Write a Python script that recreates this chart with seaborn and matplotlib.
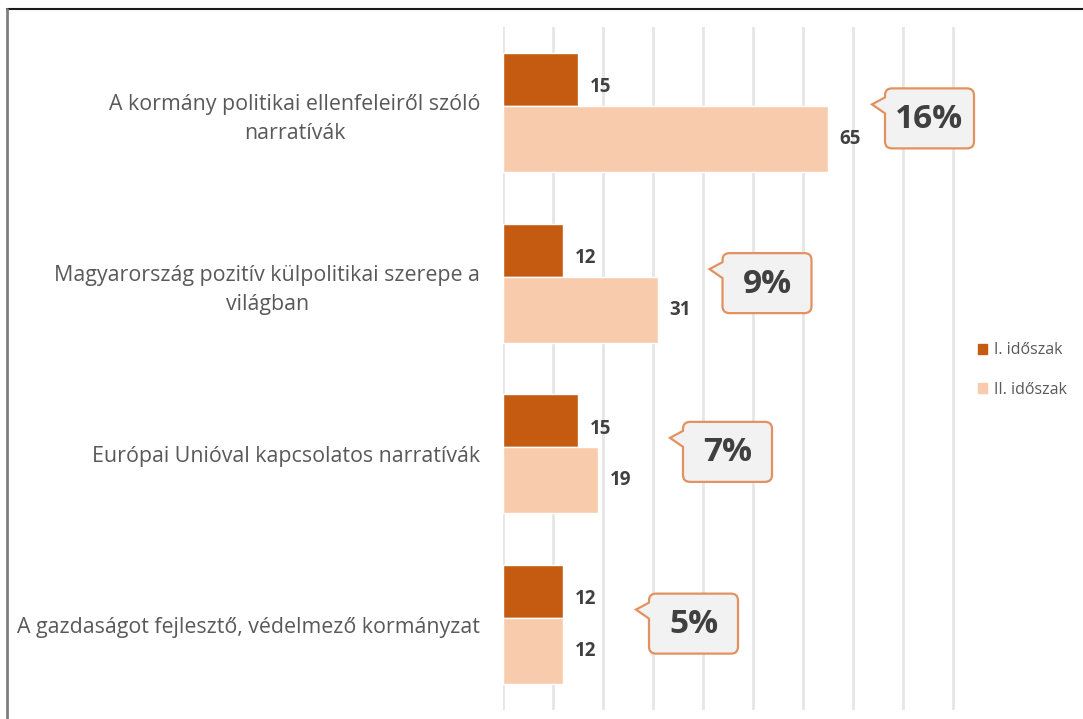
import numpy as np
import pandas as pd
import matplotlib
matplotlib.use('Agg')
import matplotlib.pyplot as plt
import seaborn as sns
from matplotlib.path import Path
from matplotlib.patches import PathPatch
from matplotlib.lines import Line2D
from matplotlib.transforms import IdentityTransform

# ---- data -------------------------------------------------------------
categories = [
    'A kormány politikai ellenfeleiről szóló\nnarratívák',
    'Magyarország pozitív külpolitikai szerepe a\nvilágban',
    'Európai Unióval kapcsolatos narratívák',
    'A gazdaságot fejlesztő, védelmező kormányzat',
]
period_1 = [15, 12, 15, 12]
period_2 = [65, 31, 19, 12]
series_names = ['I. időszak', 'II. időszak']
callout_pct = ['16%', '9%', '7%', '5%']

# ---- layout / style ---------------------------------------------------
COLORS = {'I. időszak': '#C55A11', 'II. időszak': '#F8CBAD'}
TEXT = '#595959'
DARK = '#404040'
callout_left = [76.5, 44.0, 36.1, 29.3]   # box left edge, x units
callout_dy = [6, 0, -2, -1]               # px shift of box centre

sns.set_style('white')
plt.rcParams['font.family'] = ['Open Sans', 'DejaVu Sans']

df = pd.DataFrame({
    'category': categories * 2,
    'value': period_1 + period_2,
    'period': [series_names[0]] * 4 + [series_names[1]] * 4,
})

fig = plt.figure(figsize=(10.83, 7.19), dpi=100)
W, H = 1083, 719
ax = fig.add_axes([502.5 / W, 1 - 710 / H, 452 / W, 683 / H])

sns.barplot(data=df, x='value', y='category', hue='period',
            hue_order=series_names, palette=COLORS, orient='h',
            width=0.7, ax=ax, legend=False, saturation=1)

# Excel-like uneven bar thickness: dark thinner, light thicker
for bar in ax.containers[0]:
    c = bar.get_y() + bar.get_height()
    bar.set_y(c - 0.348)
    bar.set_height(0.31)
for bar in ax.containers[1]:
    c = bar.get_y()
    bar.set_y(c - 0.038)
    bar.set_height(0.386)

# value labels (Excel puts them a bit off the bar centres)
for cont, shift in zip(ax.containers, [0.045, 0.0]):
    for bar in cont:
        ax.text(bar.get_width() + 2.4, bar.get_y() + bar.get_height() / 2 + shift,
                f'{bar.get_width():.0f}', ha='left', va='center',
                fontsize=13.5, fontweight='bold', color=DARK)

ax.set_xlim(0, 90.4)
ax.set_ylim(3.5, -0.5)
ax.set_xticks(np.arange(0, 91, 10))
ax.grid(axis='x', color='#e6e6e6', linewidth=2)
ax.set_axisbelow(True)
ax.tick_params(axis='x', length=0, labelbottom=False)
ax.tick_params(axis='y', length=0, pad=16, labelsize=15.4, labelcolor=TEXT)
for lbl in ax.get_yticklabels():
    lbl.set_multialignment('center')
    lbl.set_linespacing(1.5)
ax.set(xlabel='', ylabel='')
sns.despine(ax=ax, left=True, bottom=True)

# ---- callout bubbles --------------------------------------------------
def bubble(x0, y0, w=89, h=60, r=7):
    # x0, y0: display px of top-left corner (y up)
    L, T = x0, y0
    R, B = x0 + w, y0 - h
    verts = [(L + r, T), (R - r, T), (R, T), (R, T - r), (R, B + r), (R, B),
             (R - r, B), (L + r, B), (L, B), (L, B + r),
             (L, T - 25), (L - 13, T - 16), (L, T - 9),
             (L, T - r), (L, T), (L + r, T)]
    codes = [Path.MOVETO, Path.LINETO, Path.CURVE3, Path.CURVE3, Path.LINETO,
             Path.CURVE3, Path.CURVE3, Path.LINETO, Path.CURVE3, Path.CURVE3,
             Path.LINETO, Path.LINETO, Path.LINETO,
             Path.LINETO, Path.CURVE3, Path.CURVE3]
    return Path(verts, codes)

for i, (txt, xl, dy) in enumerate(zip(callout_pct, callout_left, callout_dy)):
    px, py = ax.transData.transform((xl, i))
    py -= dy
    patch = PathPatch(bubble(px, py + 30), facecolor='#F2F2F2',
                      edgecolor='#E3915F', linewidth=1.6,
                      transform=IdentityTransform(), zorder=5)
    fig.add_artist(patch)
    fig.text((px + 44.5) / W, (py - 1) / H, txt, ha='center', va='center',
             fontsize=24, fontweight='bold', color=DARK, zorder=6)

# ---- legend -----------------------------------------------------------
handles = [plt.Rectangle((0, 0), 1, 1, color=COLORS[s]) for s in series_names]
fig.legend(handles, series_names, loc='center left',
           bbox_to_anchor=(964 / W, 1 - 370 / H), frameon=False,
           fontsize=11.5, labelcolor=TEXT, handlelength=0.55, handleheight=0.55,
           handletextpad=0.4, labelspacing=1.45)

# ---- frame lines of the original screenshot ---------------------------
fig.add_artist(Line2D([7 / W, 1], [1 - 9 / H] * 2, color='#1a1a1a', lw=1.5))
fig.add_artist(Line2D([7 / W] * 2, [0, 1 - 9 / H], color='#7f7f7f', lw=2))

fig.savefig('out.png', dpi=100, facecolor='white')
